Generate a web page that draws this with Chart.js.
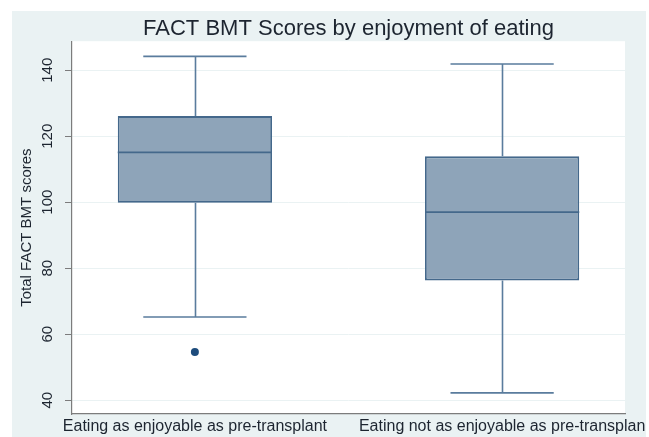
<!DOCTYPE html>
<html>
<head>
<meta charset="utf-8">
<script src="https://cdn.jsdelivr.net/npm/chart.js@4"></script>
<style>
  html, body { margin: 0; padding: 0; background: #fff; }
  #wrap { width: 649px; height: 437px; }
</style>
</head>
<body>
<div id="wrap"><canvas id="chart"></canvas></div>
<script>
// Box plot: FACT BMT total score split by whether eating is still enjoyable
const groups     = ['Eating as enjoyable as pre-transplant', 'Eating not as enjoyable as pre-transplan'];
const groupPos   = [1, 2];
const whiskerLo  = [65.2, 42.2];
const boxLo      = [99.8, 76.3];
const medians    = [115.1, 97.0];
const boxHi      = [126.1, 113.9];
const whiskerHi  = [144.2, 141.9];
const outlierPos = [1];
const outlierVal = [54.6];
const yTicks     = [40, 60, 80, 100, 120, 140];

const FONT     = "'Liberation Sans', Arial, Helvetica, sans-serif";
const TEXT     = '#1d2530';
const AXIS     = '#7c7c7c';
const BG       = '#eaf2f3';
const BOX_FILL = '#8ea4b9';
const BOX_LINE = '#44688b';
const WHISKER  = '#5a7c9d';
const CAP_HALF = 0.168;   // half cap width, in x-axis units

// outer grey-blue panel + white plot region
const backdrop = {
  id: 'backdrop',
  beforeDraw(chart) {
    const { ctx, chartArea: a } = chart;
    ctx.save();
    ctx.fillStyle = '#ffffff';
    ctx.fillRect(0, 0, chart.width, chart.height);
    ctx.fillStyle = BG;
    ctx.fillRect(12, 11, chart.width - 15, chart.height - 11);
    ctx.fillStyle = '#ffffff';
    ctx.fillRect(a.left, a.top, a.right - a.left, a.bottom - a.top);
    ctx.restore();
  }
};

// whiskers, caps and medians
const boxParts = {
  id: 'boxParts',
  afterDatasetsDraw(chart) {
    const { ctx, scales: { x, y } } = chart;
    ctx.save();
    ctx.lineCap = 'butt';
    groupPos.forEach((pos, i) => {
      const cx = Math.round(x.getPixelForValue(pos)) + 0.5;
      const capL = x.getPixelForValue(pos - CAP_HALF);
      const capR = x.getPixelForValue(pos + CAP_HALF);
      ctx.strokeStyle = WHISKER;
      ctx.lineWidth = 1.6;
      ctx.beginPath();
      ctx.moveTo(cx, y.getPixelForValue(boxHi[i]));
      ctx.lineTo(cx, y.getPixelForValue(whiskerHi[i]));
      ctx.moveTo(cx, y.getPixelForValue(boxLo[i]));
      ctx.lineTo(cx, y.getPixelForValue(whiskerLo[i]));
      ctx.moveTo(capL, y.getPixelForValue(whiskerHi[i]));
      ctx.lineTo(capR, y.getPixelForValue(whiskerHi[i]));
      ctx.moveTo(capL, y.getPixelForValue(whiskerLo[i]));
      ctx.lineTo(capR, y.getPixelForValue(whiskerLo[i]));
      ctx.stroke();

      const bar = chart.getDatasetMeta(0).data[i];
      ctx.strokeStyle = BOX_LINE;
      ctx.lineWidth = 1.8;
      ctx.beginPath();
      ctx.moveTo(bar.x - bar.width / 2, y.getPixelForValue(medians[i]));
      ctx.lineTo(bar.x + bar.width / 2, y.getPixelForValue(medians[i]));
      ctx.stroke();
    });
    ctx.restore();
  }
};

// y tick labels, turned to read upwards
const yLabels = {
  id: 'yLabels',
  afterDraw(chart) {
    const { ctx, scales: { y } } = chart;
    ctx.save();
    ctx.fillStyle = TEXT;
    ctx.font = `15px ${FONT}`;
    ctx.textAlign = 'center';
    ctx.textBaseline = 'middle';
    y.ticks.forEach(t => {
      ctx.save();
      ctx.translate(48, y.getPixelForValue(t.value));
      ctx.rotate(-Math.PI / 2);
      ctx.fillText(String(t.value), 0, 0);
      ctx.restore();
    });
    ctx.restore();
  }
};

new Chart(document.getElementById('chart'), {
  type: 'bar',
  data: {
    datasets: [
      {
        data: groupPos.map((p, i) => ({ x: p, y: [boxLo[i], boxHi[i]] })),
        backgroundColor: BOX_FILL,
        borderColor: BOX_LINE,
        borderWidth: 1.8,
        borderSkipped: false,
        categoryPercentage: 1,
        barPercentage: 0.502,
      },
      {
        type: 'line',
        data: outlierPos.map((p, i) => ({ x: p, y: outlierVal[i] })),
        showLine: false,
        pointRadius: 4,
        pointBackgroundColor: '#1d4c7c',
        pointBorderColor: '#1d4c7c',
        pointBorderWidth: 0,
      },
    ],
  },
  options: {
    responsive: true,
    maintainAspectRatio: false,
    animation: false,
    layout: { padding: { top: 17, right: 24, bottom: 0, left: 0 } },
    plugins: {
      legend: { display: false },
      tooltip: { enabled: false },
      title: {
        display: true,
        text: 'FACT BMT Scores by enjoyment of eating',
        color: TEXT,
        font: { family: FONT, size: 22, weight: 'normal', lineHeight: 1.1 },
        padding: 0,
        fullSize: false,
      },
    },
    scales: {
      x: {
        type: 'linear',
        offset: false,
        min: 0.6,
        max: 2.4,
        afterBuildTicks: s => { s.ticks = groupPos.map(v => ({ value: v })); },
        afterFit: s => { s.height = 23; s.paddingLeft = 0; s.paddingRight = 0; },
        ticks: {
          callback: (v, i) => groups[i],
          color: TEXT,
          font: { family: FONT, size: 16 },
          padding: 3,
          autoSkip: false,
          maxRotation: 0,
          minRotation: 0,
        },
        grid: { display: false, drawTicks: false, offset: false },
        border: { color: AXIS, width: 1.2 },
      },
      y: {
        min: 35.8,
        max: 148.8,
        afterBuildTicks: s => { s.ticks = yTicks.map(v => ({ value: v })); },
        afterFit: s => { s.width = 72; },
        ticks: { display: false },
        grid: { color: BG, tickColor: AXIS, tickLength: 7, lineWidth: 1 },
        border: { color: AXIS, width: 1.2 },
        title: {
          display: true,
          text: 'Total FACT BMT scores',
          color: TEXT,
          font: { family: FONT, size: 15 },
          padding: { top: 18, bottom: 0 },
        },
      },
    },
  },
  plugins: [backdrop, boxParts, yLabels],
});
</script>
</body>
</html>
